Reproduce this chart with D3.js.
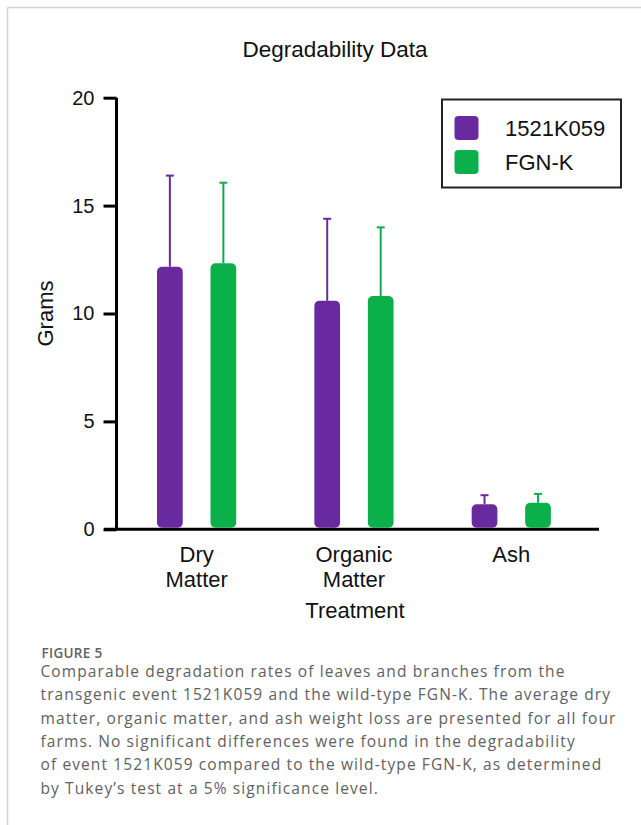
<!DOCTYPE html>
<html lang="en">

<head>
    <meta charset="UTF-8">
    <title>Degradability Data</title>
    <script src="https://d3js.org/d3.v7.min.js"></script>
    <style>
        body {
            margin: 0;
            background: #fff;
        }

        svg {
            display: block;
        }

        .chart text {
            font-family: "Liberation Sans", Arial, sans-serif;
            fill: #111;
        }

        .caption text {
            font-family: "Open Sans", "Noto Sans", sans-serif;
            fill: #616161;
        }
    </style>
</head>

<body>
<svg></svg>

<script>
    // data
    const treatments = [["Dry", "Matter"], ["Organic", "Matter"], ["Ash"]];
    const seriesNames = ["1521K059", "FGN-K"];
    const seriesColors = ["#6a2a9f", "#0bb04b"];
    const means = [
        [12.17, 10.59, 1.16],   // 1521K059
        [12.33, 10.81, 1.23]    // FGN-K
    ];
    const errors = [
        [4.22, 3.80, 0.42],
        [3.73, 3.18, 0.41]
    ];
    const yTicks = [0, 5, 10, 15, 20];
    const captionLines = [
        "Comparable degradation rates of leaves and branches from the",
        "transgenic event 1521K059 and the wild-type FGN-K. The average dry",
        "matter, organic matter, and ash weight loss are presented for all four",
        "farms. No significant differences were found in the degradability",
        "of event 1521K059 compared to the wild-type FGN-K, as determined",
        "by Tukey\u2019s test at a 5% significance level."
    ];

    const width = 641, height = 825;
    const svg = d3.select("svg").attr("width", width).attr("height", height);

    // page frame
    svg.append("line").attr("x1", 7.5).attr("x2", 7.5).attr("y1", 7.5).attr("y2", height)
        .attr("stroke", "#d4d4d4").attr("stroke-width", 1.5);
    svg.append("line").attr("x1", 7.5).attr("x2", width).attr("y1", 7.5).attr("y2", 7.5)
        .attr("stroke", "#d4d4d4").attr("stroke-width", 1.5);

    const g = svg.append("g").attr("class", "chart");

    // scales
    const x = d3.scaleBand()
        .domain(treatments.map(d => d.join(" ")))
        .range([118, 590])
        .padding(0);
    const y = d3.scaleLinear().domain([0, 20]).range([529.3, 97.7]);
    const barW = 25.7;
    const offset = [-26.8, 26.7];

    // title
    g.append("text")
        .attr("x", 335).attr("y", 57.3)
        .attr("text-anchor", "middle")
        .style("font-size", "22.5px")
        .text("Degradability Data");

    // y axis
    const yAxis = d3.axisLeft(y).tickValues(yTicks).tickSize(13).tickPadding(9);
    const ya = g.append("g").attr("transform", "translate(116.5,0)").call(yAxis);
    ya.select(".domain").attr("stroke", "#000").attr("stroke-width", 3)
        .attr("d", `M0,${y(20)}V${y(0)}`);
    ya.selectAll(".tick line").attr("stroke", "#000").attr("stroke-width", 3);
    ya.selectAll(".tick text").style("font-size", "20px").attr("fill", "#111");

    // x axis baseline
    g.append("line")
        .attr("x1", 104).attr("x2", 599)
        .attr("y1", y(0)).attr("y2", y(0))
        .attr("stroke", "#000").attr("stroke-width", 3);

    // y label
    g.append("text")
        .attr("transform", `translate(53,${(y(0) + y(20)) / 2}) rotate(-90)`)
        .attr("text-anchor", "middle")
        .style("font-size", "22px")
        .text("Grams");

    // category labels
    treatments.forEach(t => {
        const cx = x(t.join(" ")) + x.bandwidth() / 2;
        const lab = g.append("text")
            .attr("x", cx).attr("y", 561.7)
            .attr("text-anchor", "middle")
            .style("font-size", "22px");
        t.forEach((w, i) => lab.append("tspan").attr("x", cx).attr("dy", i ? 25 : 0).text(w));
    });

    g.append("text")
        .attr("x", 355).attr("y", 618.3)
        .attr("text-anchor", "middle")
        .style("font-size", "22px")
        .text("Treatment");

    // bars and error bars
    seriesNames.forEach((name, s) => {
        const rows = treatments.map((t, i) => ({
            key: t.join(" "), mean: means[s][i], err: errors[s][i]
        }));
        const sg = g.append("g").attr("fill", seriesColors[s]).attr("stroke", seriesColors[s]);
        const cx = d => x(d.key) + x.bandwidth() / 2 + offset[s];

        sg.selectAll("line.err")
            .data(rows)
            .join("line")
            .attr("class", "err")
            .attr("x1", cx).attr("x2", cx)
            .attr("y1", d => y(d.mean)).attr("y2", d => y(d.mean + d.err))
            .attr("stroke-width", 2);
        sg.selectAll("line.cap")
            .data(rows)
            .join("line")
            .attr("class", "cap")
            .attr("x1", d => cx(d) - 4).attr("x2", d => cx(d) + 4)
            .attr("y1", d => y(d.mean + d.err)).attr("y2", d => y(d.mean + d.err))
            .attr("stroke-width", 2);
        sg.selectAll("rect")
            .data(rows)
            .join("rect")
            .attr("stroke", "none")
            .attr("x", d => cx(d) - barW / 2)
            .attr("width", barW)
            .attr("y", d => y(d.mean))
            .attr("height", d => y(0) - 1.5 - y(d.mean))
            .attr("rx", 5);
    });

    // legend
    const lg = g.append("g");
    lg.append("rect")
        .attr("x", 442).attr("y", 99.5).attr("width", 179).attr("height", 88)
        .attr("fill", "none").attr("stroke", "#222").attr("stroke-width", 2);
    seriesNames.forEach((name, s) => {
        lg.append("rect")
            .attr("x", 454.5).attr("y", 116 + s * 34)
            .attr("width", 24).attr("height", 24).attr("rx", 4)
            .attr("fill", seriesColors[s]);
        lg.append("text")
            .attr("x", 505).attr("y", 136 + s * 33.5)
            .style("font-size", "22px")
            .text(name);
    });

    // caption
    const cap = svg.append("g").attr("class", "caption");
    cap.append("text")
        .attr("x", 41.5).attr("y", 657.5)
        .style("font-size", "13.5px")
        .style("font-weight", 600)
        .style("letter-spacing", "0.3px")
        .attr("fill", "#6a6a6a")
        .text("FIGURE 5");
    const capSize = 15.5;
    const lines = cap.selectAll("text.line")
        .data(captionLines)
        .join("text")
        .attr("class", "line")
        .attr("x", 40.5)
        .attr("y", (d, i) => 677 + i * 23.3)
        .style("font-size", capSize + "px")
        .text(d => d);
    // spread the letters so the widest line fills the caption column
    const widestNode = lines.nodes().reduce((a, b) =>
        b.getComputedTextLength() > a.getComputedTextLength() ? b : a);
    const extra = (576 - widestNode.getComputedTextLength()) / widestNode.textContent.length;
    lines.style("letter-spacing", extra + "px");
</script>
</body>

</html>
